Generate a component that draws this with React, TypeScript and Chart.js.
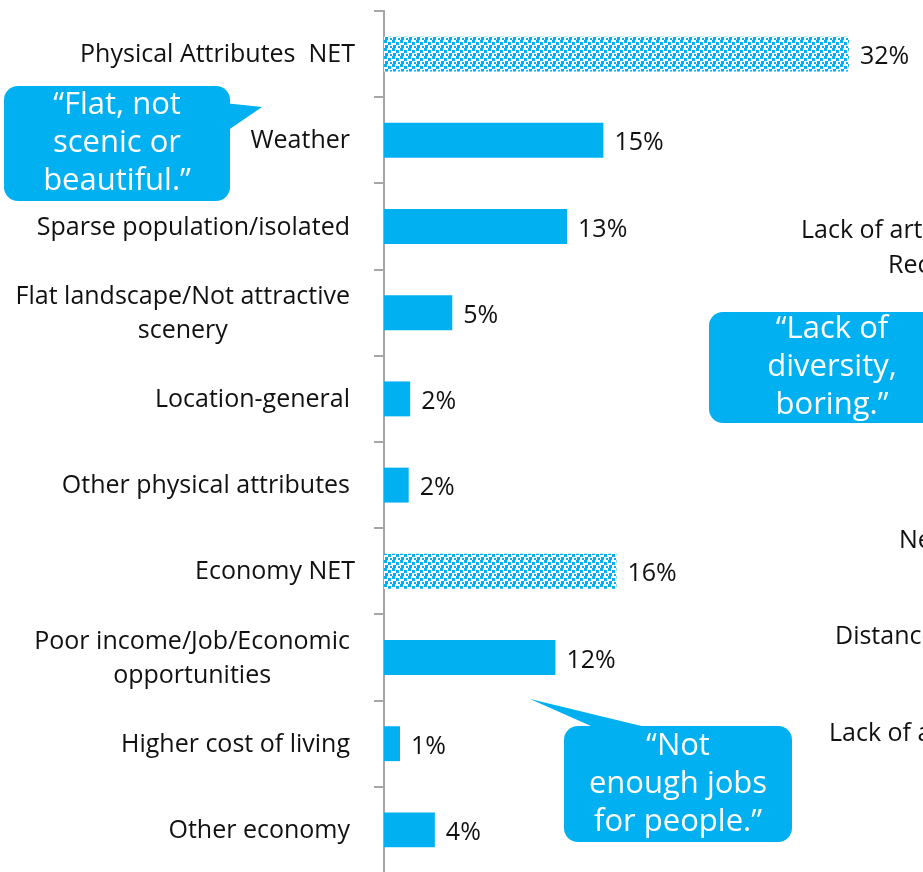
import React, { useEffect, useRef } from "react";
import { Chart, registerables } from "chart.js";

Chart.register(...registerables);

// ---- data ----
const categories: string[][] = [
  ["Physical Attributes  NET"],
  ["Weather"],
  ["Sparse population/isolated"],
  ["Flat landscape/Not attractive", "scenery"],
  ["Location-general"],
  ["Other physical attributes"],
  ["Economy NET"],
  ["Poor income/Job/Economic", "opportunities"],
  ["Higher cost of living"],
  ["Other economy"],
];
const values = [32, 15.1, 12.6, 4.7, 1.8, 1.7, 16, 11.8, 1.1, 3.5];
const valueLabels = ["32%", "15%", "13%", "5%", "2%", "2%", "16%", "12%", "1%", "4%"];
const isNet = [true, false, false, false, false, false, true, false, false, false];
const xMax = 37.1;

const quoteFlat = ["\u201cFlat, not", "scenic or", "beautiful.\u201d"];
const quoteDiversity = ["\u201cLack of", "diversity,", "boring.\u201d"];
const quoteJobs = ["\u201cNot", "enough jobs", "for people.\u201d"];

// labels of the neighbouring (cropped) chart
const neighbourLabels = [
  "Lack of arts/culture/",
  "Recreation",
  "Negative attitudes",
  "Distance to services",
  "Lack of amenities",
];

// ---- styles ----
const BLUE = "#00B0F0";
const AXIS = "#a6a6a6";
const FONT = "'Open Sans', 'Noto Sans', sans-serif";
const W = 923;
const H = 880;

function makePattern(): CanvasPattern | string {
  const c = document.createElement("canvas");
  c.width = 8;
  c.height = 8;
  const g = c.getContext("2d");
  if (!g) return BLUE;
  g.fillStyle = "#ffffff";
  g.fillRect(0, 0, 8, 8);
  g.fillStyle = BLUE;
  g.fillRect(0, 0, 3, 3);
  g.fillRect(4, 2, 3, 3);
  g.fillRect(1, 5, 3, 3);
  g.fillRect(6, 6, 2, 2);
  return g.createPattern(c, "repeat") || BLUE;
}

type Callout = {
  lines: string[];
  box: [number, number, number, number];
  tail?: [number, number][];
};

const callouts: Callout[] = [
  {
    lines: quoteFlat,
    box: [4, 86, 226, 115],
    tail: [[224, 103], [262, 107], [224, 133]],
  },
  {
    lines: quoteDiversity,
    box: [709, 312, 246, 111],
  },
  {
    lines: quoteJobs,
    box: [564, 726, 228, 116],
    tail: [[600, 730], [530, 699], [658, 730]],
  },
];

const neighbourPos: [number, number][] = [
  [801, 231],
  [888, 266],
  [899, 541],
  [835, 637],
  [829, 734],
];

const overlayPlugin = {
  id: "overlay",
  afterDraw(chart: any) {
    const ctx: CanvasRenderingContext2D = chart.ctx;
    const yScale = chart.scales.y;
    const meta = chart.getDatasetMeta(0);
    ctx.save();
    // category labels
    ctx.font = `25px ${FONT}`;
    ctx.fillStyle = "#111111";
    ctx.textBaseline = "middle";
    ctx.textAlign = "center";
    const lh = 34;
    categories.forEach((lines, i) => {
      const right = isNet[i] ? 355 : 350;
      const y = yScale.getPixelForValue(i) + 1;
      const maxW = Math.max(...lines.map((l) => ctx.measureText(l).width));
      const cx = right - maxW / 2;
      const y0 = y - ((lines.length - 1) * lh) / 2;
      lines.forEach((l, k) => ctx.fillText(l, cx, y0 + k * lh));
    });
    // value labels
    ctx.textAlign = "left";
    meta.data.forEach((bar: any, i: number) => {
      ctx.fillText(valueLabels[i], bar.x + 11, bar.y + 3);
    });
    // neighbour chart labels
    neighbourLabels.forEach((t, i) => {
      ctx.fillText(t, neighbourPos[i][0], neighbourPos[i][1]);
    });
    // callouts
    callouts.forEach((c) => {
      const [x, y, w, h] = c.box;
      ctx.fillStyle = BLUE;
      ctx.beginPath();
      (ctx as any).roundRect(x, y, w, h, 14);
      ctx.fill();
      if (c.tail) {
        ctx.beginPath();
        ctx.moveTo(c.tail[0][0], c.tail[0][1]);
        ctx.lineTo(c.tail[1][0], c.tail[1][1]);
        ctx.lineTo(c.tail[2][0], c.tail[2][1]);
        ctx.closePath();
        ctx.fill();
      }
      ctx.fillStyle = "#ffffff";
      ctx.font = `31px ${FONT}`;
      ctx.textAlign = "center";
      const centerX = x > 700 ? 832 : x + w / 2;
      const lh2 = 38;
      const cy = y + h / 2;
      c.lines.forEach((l, k) => {
        ctx.fillText(l, centerX, cy + (k - 1) * lh2);
      });
    });
    ctx.restore();
  },
};

export default function App() {
  const ref = useRef<HTMLCanvasElement | null>(null);
  useEffect(() => {
    if (!ref.current) return;
    const pattern = makePattern();
    const chart = new Chart(ref.current, {
      type: "bar",
      data: {
        labels: categories.map((c) => c.join(" ")),
        datasets: [
          {
            data: values,
            backgroundColor: values.map((_, i) => (isNet[i] ? pattern : BLUE)) as any,
            borderWidth: 0,
            barPercentage: 0.405,
            categoryPercentage: 1,
          },
        ],
      },
      options: {
        indexAxis: "y",
        responsive: false,
        animation: false,
        devicePixelRatio: 1,
        layout: { padding: { top: 11, bottom: 7, left: 0, right: 0 } },
        plugins: { legend: { display: false }, tooltip: { enabled: false } },
        scales: {
          x: { display: false, min: 0, max: xMax },
          y: {
            ticks: { display: false },
            grid: {
              drawOnChartArea: false,
              drawTicks: true,
              tickLength: 10,
              color: AXIS,
              lineWidth: 2,
              offset: true,
            },
            border: { color: AXIS, width: 2 },
            afterFit: (s: any) => {
              s.width = 384;
            },
          },
        },
      } as any,
      plugins: [overlayPlugin],
    });
    return () => chart.destroy();
  }, []);
  return (
    <div
      style={{
        position: "absolute",
        left: 0,
        top: 0,
        width: W,
        height: 872,
        overflow: "hidden",
        background: "#ffffff",
      }}
    >
      <canvas ref={ref} width={W} height={H} style={{ display: "block", width: W, height: H }} />
    </div>
  );
}
